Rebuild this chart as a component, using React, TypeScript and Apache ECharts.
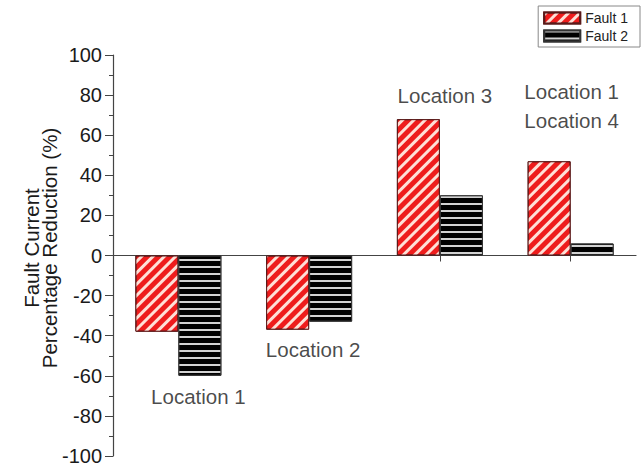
import React, { useEffect, useRef } from "react";
import * as echarts from "echarts";

const categories = ["Location 1", "Location 2", "Location 3", "Location 4"];
const fault1 = [-38, -37, 68, 47];
const fault2 = [-60, -33, 30, 6];
const yTicks = { min: -100, max: 100, interval: 20 };

const annotationTexts = ["Location 1", "Location 2", "Location 3", "Location 1", "Location 4"];
const annotationCats = [0, 1, 2, 3, 3];
const annotationValues = [-70.5, -47, 80, 82, 67.5];

const FONT = "Liberation Sans, Arial, sans-serif";

export default function App() {
  const ref = useRef<HTMLDivElement>(null);
  useEffect(() => {
    if (!ref.current) return;
    const chart = echarts.init(ref.current, null, { renderer: "svg" });
    const annOffsets = [[20, 0], [4, 0], [5, 0], [1, 0], [1, 0]];
    chart.setOption({
      animation: false,
      backgroundColor: "#ffffff",
      textStyle: { fontFamily: FONT },
      grid: { left: 113, right: 8, top: 55, bottom: 5, containLabel: false },
      legend: {
        orient: "vertical",
        right: 4,
        top: 6,
        itemWidth: 36,
        itemHeight: 11,
        itemGap: 4,
        padding: [5, 12, 4, 5],
        borderColor: "#888",
        borderWidth: 1,
        icon: "rect",
        textStyle: { fontSize: 14, color: "#222", fontFamily: FONT },
        data: ["Fault 1", "Fault 2"],
      },
      xAxis: {
        type: "category",
        data: categories,
        axisLine: { onZero: true, lineStyle: { color: "#444", width: 1.2 } },
        axisTick: { show: true, alignWithLabel: true, length: 6, lineStyle: { color: "#444" } },
        axisLabel: { show: false },
        splitLine: { show: false },
      },
      yAxis: {
        type: "value",
        min: yTicks.min,
        max: yTicks.max,
        interval: yTicks.interval,
        axisLine: { show: true, onZero: false, lineStyle: { color: "#444", width: 1.2 } },
        axisTick: { show: true, length: 8, lineStyle: { color: "#444" } },
        minorTick: { show: true, splitNumber: 2, length: 4, lineStyle: { color: "#444" } },
        axisLabel: { fontSize: 20, color: "#1a1a1a", margin: 11, fontFamily: FONT },
        splitLine: { show: false },
      },
      series: [
        {
          name: "Fault 1",
          type: "bar",
          data: fault1,
          barWidth: 43,
          barGap: "0%",
          itemStyle: {
            color: "#ee1c1c",
            borderColor: "#5a1a1a",
            borderWidth: 1,
            decal: {
              symbol: "rect",
              symbolSize: 1,
              dashArrayX: [1, 0],
              dashArrayY: [2.5, 4.5],
              rotation: -Math.PI / 4,
              color: "rgba(255,235,225,0.95)",
            },
          },
        },
        {
          name: "Fault 2",
          type: "bar",
          data: fault2,
          barWidth: 43,
          itemStyle: {
            color: "#000000",
            borderColor: "#333",
            borderWidth: 1,
            decal: {
              symbol: "rect",
              symbolSize: 1,
              dashArrayX: [1, 0],
              dashArrayY: [2, 5],
              color: "rgba(210,210,210,1)",
            },
          },
        },
        {
          name: "annotations",
          type: "scatter",
          symbolSize: 0,
          silent: true,
          data: annotationTexts.map((t, i) => ({
            value: [annotationCats[i], annotationValues[i]],
            name: t,
            label: {
              show: true,
              formatter: t,
              position: "inside",
              offset: annOffsets[i],
              fontSize: 20.5,
              color: "#1a1a1a",
              fontFamily: FONT,
            },
          })),
        },
      ],
      graphic: [
        {
          type: "text",
          x: 40,
          y: 248,
          rotation: Math.PI / 2,
          style: {
            text: "Fault Current\nPercentage Reduction (%)",
            align: "center",
            verticalAlign: "middle",
            fontSize: 20.5,
            lineHeight: 18,
            fill: "#1a1a1a",
            fontFamily: FONT,
          },
        },
      ],
    });
    return () => chart.dispose();
  }, []);
  return (
    <div
      ref={ref}
      style={{ position: "fixed", left: 0, top: 0, width: 644, height: 466 }}
    />
  );
}
